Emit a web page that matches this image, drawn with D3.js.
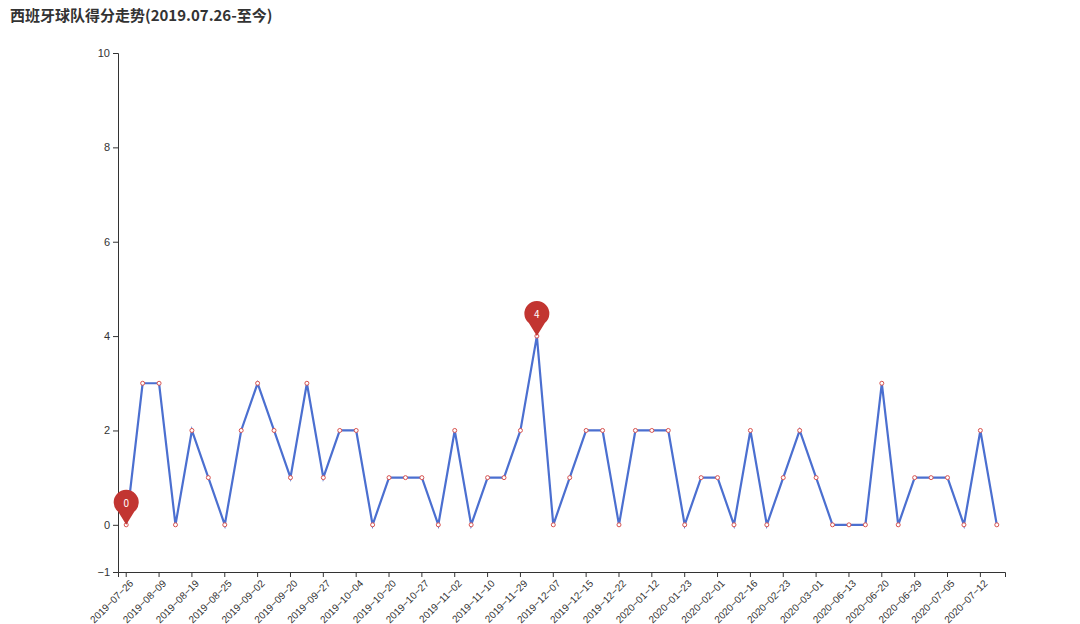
<!DOCTYPE html>
<meta charset="utf-8">
<body style="margin:0;background:#fff">
<div id="chart"></div>
<script src="https://d3js.org/d3.v7.min.js"></script>
<script>
// match dates (only every other one is labelled on the axis)
const dates = ["2019-07-26","2019-08-03","2019-08-09","2019-08-14","2019-08-19","2019-08-22","2019-08-25","2019-08-29",
  "2019-09-02","2019-09-14","2019-09-20","2019-09-24","2019-09-27","2019-10-01","2019-10-04","2019-10-15",
  "2019-10-20","2019-10-24","2019-10-27","2019-10-30","2019-11-02","2019-11-06","2019-11-10","2019-11-24",
  "2019-11-29","2019-12-03","2019-12-07","2019-12-11","2019-12-15","2019-12-19","2019-12-22","2020-01-05",
  "2020-01-12","2020-01-18","2020-01-23","2020-01-26","2020-02-01","2020-02-09","2020-02-16","2020-02-19",
  "2020-02-23","2020-02-27","2020-03-01","2020-06-10","2020-06-13","2020-06-17","2020-06-20","2020-06-25",
  "2020-06-29","2020-07-02","2020-07-05","2020-07-09","2020-07-12","2020-07-16"];
const goals = [0,3,3,0,2,1,0,2,3,2,1,3,1,2,2,0,1,1,1,0,2,0,1,1,2,4,0,1,2,2,0,2,2,2,0,1,1,0,2,0,1,2,1,0,0,0,3,0,1,1,1,0,2,0];
const yTicks = [-1,0,2,4,6,8,10];

const width = 1080, height = 624;
const m = {left:118, right:75, top:53, bottom:52};

const svg = d3.select("#chart").append("svg")
  .attr("width", width).attr("height", height)
  .style("font-family", "'Noto Sans CJK SC', 'Noto Sans', sans-serif");

svg.append("text").attr("x", 10).attr("y", 21)
  .attr("font-size", 15).attr("font-weight", "bold").attr("fill", "#333")
  .text("西班牙球队得分走势(2019.07.26-至今)");

const x = d3.scaleBand().domain(dates).range([m.left, width - m.right]);
const y = d3.scaleLinear().domain([-1, 10]).range([height - m.bottom, m.top]);
const cx = d => x(d) + x.bandwidth() / 2;

// y axis
const ya = svg.append("g").attr("transform", `translate(${m.left},0)`)
  .call(d3.axisLeft(y).tickValues(yTicks).tickSize(5).tickFormat(d => d < 0 ? "−1" : d));
ya.selectAll("path,line").attr("stroke", "#333");
ya.selectAll("text").attr("fill", "#333").attr("font-size", 11);

// x axis
const xa = svg.append("g").attr("transform", `translate(0,${height - m.bottom})`)
  .call(d3.axisBottom(x).tickSize(5).tickFormat((d, i) => i % 2 ? "" : d.replace(/-/g, "−")));
xa.selectAll("path,line").attr("stroke", "#333");
xa.selectAll(".tick").filter((d, i) => i % 2).select("line").remove();
xa.selectAll("text").attr("fill", "#333").attr("font-size", 10)
  .attr("text-anchor", "end").attr("dx", "-0.3em").attr("dy", "0.6em")
  .attr("transform", "rotate(-45)");

// line
const line = d3.line().x((d, i) => cx(dates[i])).y(d => y(d));
svg.append("path").datum(goals).attr("d", line)
  .attr("fill", "none").attr("stroke", "#4b6fd0").attr("stroke-width", 2.2);

svg.selectAll("circle.pt").data(goals).join("circle").attr("class", "pt")
  .attr("cx", (d, i) => cx(dates[i])).attr("cy", d => y(d)).attr("r", 2)
  .attr("fill", "#fff").attr("stroke", "#d9534f").attr("stroke-width", 1);

// min / max pins
const iMax = goals.indexOf(d3.max(goals)), iMin = goals.indexOf(d3.min(goals));
[iMin, iMax].forEach(i => {
  const g = svg.append("g").attr("transform", `translate(${cx(dates[i])},${y(goals[i])})`);
  g.append("path").attr("d", "M0,0 L-8,-13 A12.5,12.5 0 1,1 8,-13 Z").attr("fill", "#c23531");
  g.append("text").attr("y", -18).attr("text-anchor", "middle").attr("font-size", 10)
    .attr("fill", "#fff").text(goals[i]);
});
</script>
</body>
</html>
